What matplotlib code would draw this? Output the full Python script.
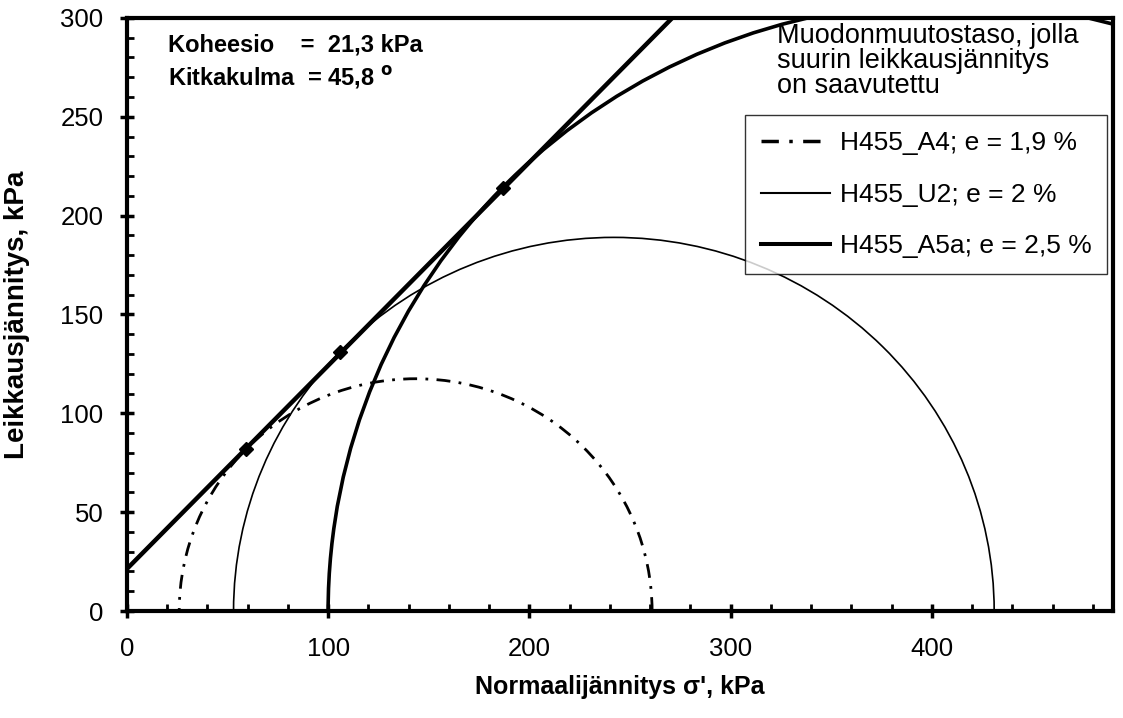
import numpy as np
import matplotlib
matplotlib.use("Agg")
from matplotlib import pyplot as plt
from matplotlib.patches import Arc
from matplotlib.lines import Line2D
from matplotlib.ticker import MultipleLocator

plt.rcParams['font.family'] = ['Liberation Sans', 'DejaVu Sans']

# Mohr circles (kPa)
names = ["H455_A4; e = 1,9 %", "H455_U2; e = 2 %", "H455_A5a; e = 2,5 %"]
sigma3 = [26, 53, 100]
sigma1 = [261, 431, 716]
# tangent points marked with diamonds
tan_x = [59, 106, 187]
tan_y = [82, 131, 214]
# failure envelope
cohesion = 21.3
phi_deg = 45.8

styles = [dict(lw=2.0, ls=(0, (5, 3, 1, 3))),
          dict(lw=1.2, ls='-'),
          dict(lw=2.6, ls='-')]

fig = plt.figure(figsize=(11.23, 7.18), dpi=100)
ax = fig.add_axes([0.113, 0.149, 0.878, 0.826])

for s3, s1, st in zip(sigma3, sigma1, styles):
    c = (s3 + s1) / 2
    d = s1 - s3
    ax.add_patch(Arc((c, 0), d, d, theta1=0, theta2=180, color='k',
                     linewidth=st['lw'], linestyle=st['ls'], zorder=3))

ax.axline((0, cohesion), slope=np.tan(np.radians(phi_deg)), color='k', lw=3.2, zorder=4)
ax.plot(tan_x, tan_y, 'kD', ms=7, zorder=5)

ax.set_xlim(0, 490)
ax.set_ylim(0, 300)
ax.xaxis.set_major_locator(MultipleLocator(100))
ax.xaxis.set_minor_locator(MultipleLocator(20))
ax.yaxis.set_major_locator(MultipleLocator(50))
ax.yaxis.set_minor_locator(MultipleLocator(10))
ax.tick_params(which='major', direction='inout', length=10, width=2.5, labelsize=18.5)
ax.tick_params(axis='y', which='major', pad=12)
ax.tick_params(axis='x', which='major', pad=14)
ax.tick_params(which='minor', direction='in', length=5, width=2)
for sp in ax.spines.values():
    sp.set_linewidth(3)

ax.set_xlabel("Normaalijännitys σ', kPa", fontsize=18, fontweight='bold', labelpad=10)
ax.set_ylabel("Leikkausjännitys, kPa", fontsize=20, fontweight='bold', labelpad=22)

ax.text(0.042, 0.954, "Koheesio    =  21,3 kPa", transform=ax.transAxes,
        fontsize=17, fontweight='bold', va='center')
ax.text(0.042, 0.899, "Kitkakulma  = 45,8 $^{\\mathbf{o}}$", transform=ax.transAxes,
        fontsize=17, fontweight='bold', va='center')

ax.text(0.659, 0.992, "Muodonmuutostaso, jolla\nsuurin leikkausjännitys\non saavutettu",
        transform=ax.transAxes, fontsize=19.5, va='top', ha='left', linespacing=0.95)

handles = [Line2D([], [], color='k', lw=st['lw'] + 0.5 if i == 0 else st['lw'] + 0.3,
                  ls=st['ls']) for i, st in enumerate(styles)]
leg = ax.legend(handles, names, loc='upper left', bbox_to_anchor=(0.627, 0.836),
                fontsize=19, frameon=True, fancybox=False, edgecolor='k',
                handlelength=2.6, handletextpad=0.38, labelspacing=1.05,
                borderpad=0.6, borderaxespad=0)
leg.get_frame().set_linewidth(1.0)

fig.savefig("out.png", dpi=100)
